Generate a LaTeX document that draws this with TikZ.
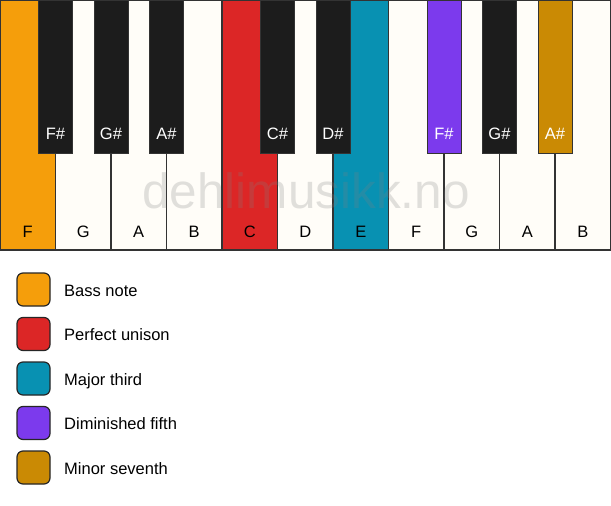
\documentclass[tikz,border=0pt]{standalone}
\usepackage{fontspec}
\setmainfont{Liberation Sans}
\usetikzlibrary{positioning}

\definecolor{bassnote}{HTML}{F59E0B}
\definecolor{unison}{HTML}{DC2626}
\definecolor{majthird}{HTML}{0891B2}
\definecolor{dimfifth}{HTML}{7C3AED}
\definecolor{minseventh}{HTML}{CA8A04}
\definecolor{keywhite}{HTML}{FFFDF8}
\definecolor{keyblack}{HTML}{1C1C1C}

\tikzset{
  whitekey/.style={draw=black!80, line width=1.2pt, fill=keywhite, minimum width=55.5pt, minimum height=250pt, inner sep=0pt, outer sep=0pt, anchor=north west},
  blackkey/.style={draw=black!80, line width=1pt, fill=keyblack, minimum width=34pt, minimum height=153pt, inner sep=0pt, outer sep=0pt, anchor=north},
  wlabel/.style={label={[anchor=base, yshift=13pt, font=\fontsize{16.5}{19}\selectfont]south:#1}},
  blabel/.style={label={[anchor=base, yshift=13.5pt, text=white, font=\fontsize{16.5}{19}\selectfont]south:#1}},
  legendbox/.style={draw=black!85, line width=1.2pt, rounded corners=6pt, minimum size=33pt, inner sep=0pt, outer sep=0pt},
  legendtxt/.style={anchor=west, inner sep=0pt, text height=13pt, text depth=0pt, font=\fontsize{16.5}{19}\selectfont},
  watermark/.style={anchor=base, text=gray, text opacity=0.24, font=\fontsize{49.5}{55}\selectfont}
}

\begin{document}
\begin{tikzpicture}[x=1pt, y=-1pt]
\path[use as bounding box, fill=white] (0,0) rectangle (611,506);

% white keys
\node[whitekey, fill=bassnote, wlabel=F] (F1) at (0,0) {};
\node[whitekey, wlabel=G] (G1) at (F1.north east) {};
\node[whitekey, wlabel=A] (A1) at (G1.north east) {};
\node[whitekey, wlabel=B] (B1) at (A1.north east) {};
\node[whitekey, fill=unison, wlabel=C] (C2) at (B1.north east) {};
\node[whitekey, wlabel=D] (D2) at (C2.north east) {};
\node[whitekey, fill=majthird, wlabel=E] (E2) at (D2.north east) {};
\node[whitekey, wlabel=F] (F2) at (E2.north east) {};
\node[whitekey, wlabel=G] (G2) at (F2.north east) {};
\node[whitekey, wlabel=A] (A2) at (G2.north east) {};
\node[whitekey, wlabel=B] (B2) at (A2.north east) {};

% black keys
\node[blackkey, blabel=F\#] (Fs1) at (F1.north east) {};
\node[blackkey, blabel=G\#] (Gs1) at (G1.north east) {};
\node[blackkey, blabel=A\#] (As1) at (A1.north east) {};
\node[blackkey, blabel=C\#] (Cs2) at (C2.north east) {};
\node[blackkey, blabel=D\#] (Ds2) at (D2.north east) {};
\node[blackkey, fill=dimfifth, blabel=F\#] (Fs2) at (F2.north east) {};
\node[blackkey, blabel=G\#] (Gs2) at (G2.north east) {};
\node[blackkey, fill=minseventh, blabel=A\#] (As2) at (A2.north east) {};

\node[watermark] (wm) at (306,208.3) {dehlimusikk.no};

% legend
\node[legendbox, fill=bassnote] (L1) at (33.5,289.5) {};
\node[legendbox, fill=unison, below=11.5pt of L1] (L2) {};
\node[legendbox, fill=majthird, below=11.5pt of L2] (L3) {};
\node[legendbox, fill=dimfifth, below=11.5pt of L3] (L4) {};
\node[legendbox, fill=minseventh, below=11.5pt of L4] (L5) {};
\node[legendtxt, right=14pt of L1] (T1) {Bass note};
\node[legendtxt, right=14pt of L2] (T2) {Perfect unison};
\node[legendtxt, right=14pt of L3] (T3) {Major third};
\node[legendtxt, right=14pt of L4] (T4) {Diminished fifth};
\node[legendtxt, right=14pt of L5] (T5) {Minor seventh};
\end{tikzpicture}
\end{document}
